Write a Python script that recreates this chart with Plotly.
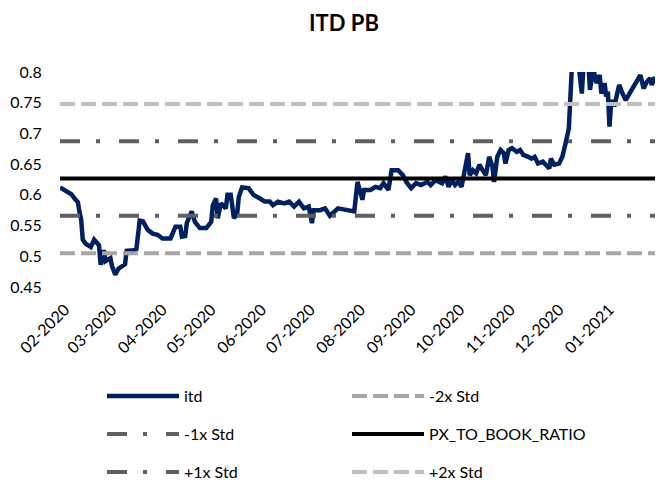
import plotly.graph_objects as go

# ---------------- data ----------------
dates = [
    "2020-01-29", "2020-02-01", "2020-02-05", "2020-02-07", "2020-02-09", "2020-02-10",
    "2020-02-11", "2020-02-12", "2020-02-14", "2020-02-17", "2020-02-19", "2020-02-22",
    "2020-02-23", "2020-02-25", "2020-02-26", "2020-02-29", "2020-03-01", "2020-03-03",
    "2020-03-05", "2020-03-09", "2020-03-10", "2020-03-14", "2020-03-16", "2020-03-18",
    "2020-03-20", "2020-03-23", "2020-03-26", "2020-03-29", "2020-04-01", "2020-04-06",
    "2020-04-09", "2020-04-12", "2020-04-13", "2020-04-15", "2020-04-16", "2020-04-19",
    "2020-04-21", "2020-04-24", "2020-04-28", "2020-05-01", "2020-05-02", "2020-05-04",
    "2020-05-05", "2020-05-07", "2020-05-10", "2020-05-11", "2020-05-13", "2020-05-15",
    "2020-05-17", "2020-05-18", "2020-05-20", "2020-05-24", "2020-05-27", "2020-05-31",
    "2020-06-03", "2020-06-06", "2020-06-08", "2020-06-11", "2020-06-15", "2020-06-18",
    "2020-06-21", "2020-06-24", "2020-06-27", "2020-06-30", "2020-07-02", "2020-07-03",
    "2020-07-07", "2020-07-10", "2020-07-13", "2020-07-18", "2020-07-26", "2020-07-28",
    "2020-07-30", "2020-08-02", "2020-08-03", "2020-08-07", "2020-08-10", "2020-08-13",
    "2020-08-15", "2020-08-18", "2020-08-20", "2020-08-24", "2020-08-27", "2020-08-29",
    "2020-09-01", "2020-09-04", "2020-09-07", "2020-09-11", "2020-09-13", "2020-09-16",
    "2020-09-20", "2020-09-22", "2020-09-24", "2020-09-26", "2020-09-28", "2020-09-30",
    "2020-10-02", "2020-10-04", "2020-10-06", "2020-10-07", "2020-10-09", "2020-10-11",
    "2020-10-13", "2020-10-15", "2020-10-17", "2020-10-19", "2020-10-21", "2020-10-22",
    "2020-10-24", "2020-10-26", "2020-10-28", "2020-10-29", "2020-10-31", "2020-11-02",
    "2020-11-05", "2020-11-07", "2020-11-09", "2020-11-12", "2020-11-14", "2020-11-16",
    "2020-11-18", "2020-11-21", "2020-11-23", "2020-11-25", "2020-11-26", "2020-11-28",
    "2020-12-01", "2020-12-03", "2020-12-05", "2020-12-07", "2020-12-09", "2020-12-11",
    "2020-12-13", "2020-12-15", "2020-12-16", "2020-12-19", "2020-12-20", "2020-12-22",
    "2020-12-24", "2020-12-26", "2020-12-27", "2020-12-29", "2020-12-30", "2020-12-31",
    "2021-01-01", "2021-01-02", "2021-01-03", "2021-01-04", "2021-01-06", "2021-01-07",
    "2021-01-09", "2021-01-11", "2021-01-14", "2021-01-17", "2021-01-20", "2021-01-22",
    "2021-01-24", "2021-01-26", "2021-01-27", "2021-01-29",
]
itd = [
    0.612, 0.608, 0.601, 0.594, 0.588, 0.572,
    0.560, 0.527, 0.520, 0.515, 0.527, 0.518,
    0.486, 0.510, 0.492, 0.497, 0.484, 0.470,
    0.480, 0.487, 0.509, 0.510, 0.512, 0.558,
    0.557, 0.543, 0.537, 0.535, 0.529, 0.529,
    0.548, 0.548, 0.532, 0.533, 0.554, 0.573,
    0.556, 0.546, 0.546, 0.556, 0.583, 0.594,
    0.562, 0.586, 0.578, 0.600, 0.600, 0.562,
    0.570, 0.597, 0.612, 0.611, 0.600, 0.594,
    0.589, 0.589, 0.583, 0.589, 0.586, 0.589,
    0.581, 0.589, 0.578, 0.581, 0.554, 0.575,
    0.575, 0.578, 0.566, 0.578, 0.575, 0.573,
    0.621, 0.592, 0.608, 0.608, 0.613, 0.611,
    0.619, 0.608, 0.640, 0.640, 0.632, 0.621,
    0.611, 0.619, 0.616, 0.621, 0.616, 0.624,
    0.619, 0.630, 0.613, 0.624, 0.616, 0.621,
    0.613, 0.646, 0.668, 0.632, 0.640, 0.635,
    0.649, 0.640, 0.632, 0.662, 0.646, 0.621,
    0.662, 0.673, 0.668, 0.651, 0.673, 0.676,
    0.670, 0.673, 0.665, 0.662, 0.659, 0.662,
    0.651, 0.654, 0.649, 0.643, 0.659, 0.649,
    0.651, 0.662, 0.684, 0.708, 0.815, 0.810,
    0.812, 0.765, 0.810, 0.815, 0.771, 0.805,
    0.782, 0.795, 0.765, 0.782, 0.760, 0.768,
    0.711, 0.749, 0.754, 0.744, 0.768, 0.779,
    0.765, 0.754, 0.768, 0.782, 0.795, 0.773,
    0.784, 0.790, 0.779, 0.792,
]

band_names = ["-2x Std", "-1x Std", "PX_TO_BOOK_RATIO", "+1x Std", "+2x Std"]
band_values = [0.5051, 0.5658, 0.6265, 0.6872, 0.7479]

tick_dates = ["2020-02-01", "2020-03-01", "2020-04-01", "2020-05-01", "2020-06-01",
              "2020-07-01", "2020-08-01", "2020-09-01", "2020-10-01", "2020-11-01",
              "2020-12-01", "2021-01-01"]
tick_labels = ["02-2020", "03-2020", "04-2020", "05-2020", "06-2020", "07-2020",
               "08-2020", "09-2020", "10-2020", "11-2020", "12-2020", "01-2021"]
y_ticks = [0.45, 0.5, 0.55, 0.6, 0.65, 0.7, 0.75, 0.8]
y_tick_labels = ["0.45", "0.5", "0.55", "0.6", "0.65", "0.7", "0.75", "0.8"]

# ---------------- styles ----------------
FONT = "Lato"
PAGE_OFF = 8            # default body margin of the html page
W, H = 663 - PAGE_OFF, 480 - PAGE_OFF
band_styles = {
    "-2x Std": dict(color="#A6A6A6", width=4, dash="15px,6px"),
    "-1x Std": dict(color="#5F5F5F", width=4, dash="20px,16px,4px,19px"),
    "PX_TO_BOOK_RATIO": dict(color="#000000", width=4, dash="solid"),
    "+1x Std": dict(color="#5F5F5F", width=4, dash="20px,16px,4px,19px"),
    "+2x Std": dict(color="#BFBFBF", width=4, dash="15px,6px"),
}
# legend slot (left x of symbol, center y) in screen pixels
legend_slots = {
    "itd": (107, 396, "legend"),
    "-2x Std": (352, 396, "legend2"),
    "-1x Std": (107, 434, "legend3"),
    "PX_TO_BOOK_RATIO": (352, 434, "legend4"),
    "+1x Std": (107, 472, "legend5"),
    "+2x Std": (352, 472, "legend6"),
}

fig = go.Figure()
fig.add_trace(go.Scatter(
    x=dates, y=itd, mode="lines", name="itd",
    line=dict(color="#002060", width=4.5),
    legend=legend_slots["itd"][2],
))
for name, val in zip(band_names, band_values):
    fig.add_trace(go.Scatter(
        x=[dates[0], dates[-1]], y=[val, val], mode="lines", name=name,
        line=band_styles[name],
        legend=legend_slots[name][2],
    ))

layout_legends = {}
for name, (lx, ly, key) in legend_slots.items():
    layout_legends[key] = dict(
        x=(lx - PAGE_OFF - 5) / W, y=1 - (ly - PAGE_OFF) / H,
        xref="container", yref="container",
        xanchor="left", yanchor="middle", orientation="v",
        bgcolor="rgba(0,0,0,0)", borderwidth=0,
        font=dict(family=FONT, size=16, color="#000000"),
        itemwidth=72, tracegroupgap=0,
    )

plot_left, plot_right, plot_top, plot_bottom = 60, 655, 72, 287
fig.update_layout(
    width=W, height=H,
    paper_bgcolor="white", plot_bgcolor="white",
    margin=dict(l=plot_left - PAGE_OFF, r=W - (plot_right - PAGE_OFF),
                t=plot_top - PAGE_OFF, b=H - (plot_bottom - PAGE_OFF), autoexpand=False),
    title=dict(text="<b>ITD PB</b>", x=(344 - PAGE_OFF) / W, xref="container", xanchor="center",
               y=1 - (23 - PAGE_OFF) / H, yref="container", yanchor="middle",
               font=dict(family=FONT, size=22, color="#000000")),
    xaxis=dict(type="date", range=[dates[0], dates[-1]],
               tickvals=tick_dates, ticktext=tick_labels, tickangle=-45,
               showgrid=False, zeroline=False, showline=False,
               ticks="outside", ticklen=6, tickcolor="rgba(0,0,0,0)",
               tickfont=dict(family=FONT, size=16, color="#000000")),
    yaxis=dict(range=[0.45, 0.8], tickvals=y_ticks, ticktext=y_tick_labels,
               showgrid=False, zeroline=False, showline=False,
               ticks="outside", ticklen=14, tickcolor="rgba(0,0,0,0)",
               tickfont=dict(family=FONT, size=16, color="#000000")),
    showlegend=True,
    **layout_legends,
)

fig.write_html("out.html")
